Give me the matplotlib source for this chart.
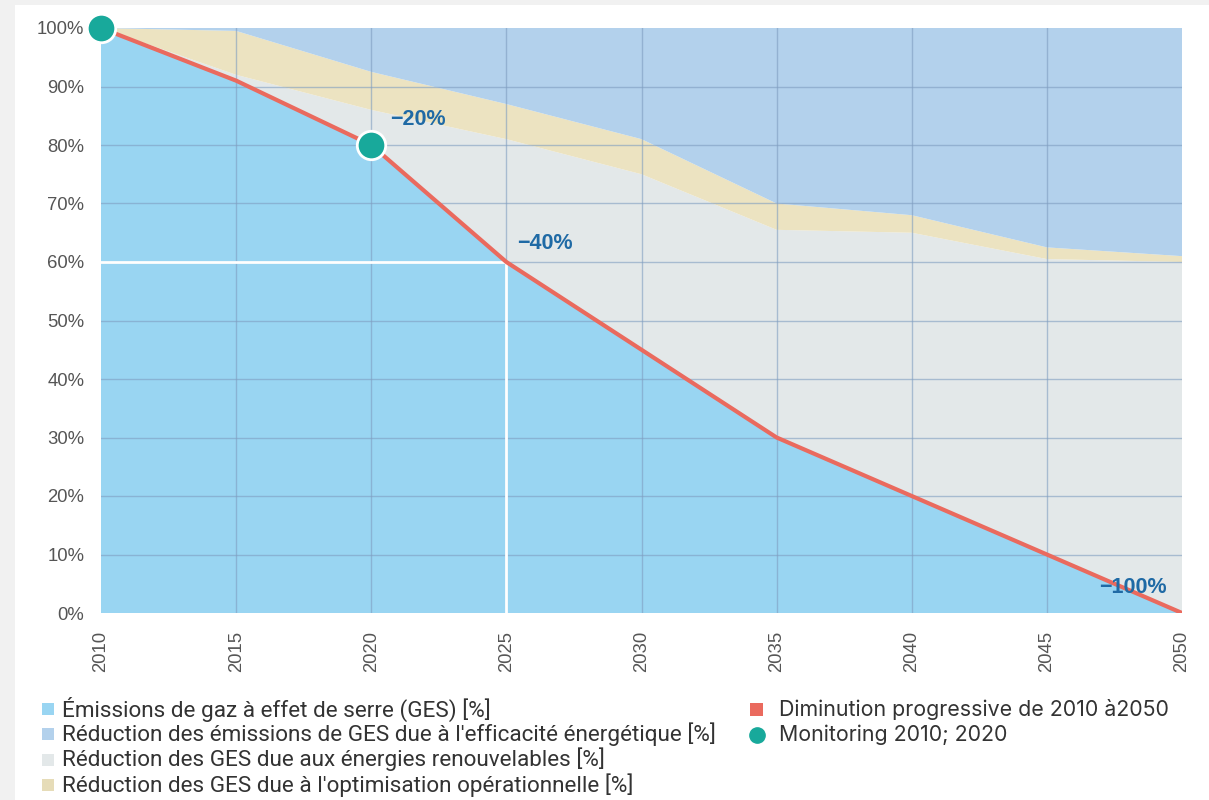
import numpy as np
import matplotlib.pyplot as plt
from matplotlib.patches import Rectangle

# years and stacked shares (% of 2010 emissions)
years = [2010, 2015, 2020, 2025, 2030, 2035, 2040, 2045, 2050]
emissions = [100, 91, 80, 60, 45, 30, 20, 10, 0]
renewables_top = [100, 92, 86, 81, 75, 65.5, 65, 60.5, 60]
operational_top = [100, 99.5, 92.5, 87, 81, 70, 68, 62.5, 61]

monitor_years = [2010, 2020]
monitor_values = [100, 80]

labels = [("−20%", 2020.7, 84.3), ("−40%", 2025.4, 63.1), ("−100%", 2048.2, 4.3)]

legend_left = [
    ("Émissions de gaz à effet de serre (GES) [%]", "#99d5f2"),
    ("Réduction des émissions de GES due à l'efficacité énergétique [%]", "#b3d1ec"),
    ("Réduction des GES due aux énergies renouvelables [%]", "#e3e8e9"),
    ("Réduction des GES due à l'optimisation opérationnelle [%]", "#e6dcb8"),
]

c_emis = "#99d5f2"
c_eff = "#b3d1ec"
c_ren = "#e3e8e9"
c_opt = "#ece3c1"
c_red = "#ea6a5e"
c_teal = "#18a99b"
c_text = "#1f6aa5"

W, H = 1209, 800
fig = plt.figure(figsize=(W / 100, H / 100), dpi=100)
fig.patch.set_facecolor("#f1f1f1")
fig.patches.append(Rectangle((15 / W, 0), 1 - 15 / W, 1 - 5 / H,
                             transform=fig.transFigure, facecolor="white",
                             edgecolor="none", zorder=-10))

ax = fig.add_axes([101 / W, 1 - 613 / H, (1182 - 101) / W, (613 - 28) / H])
ax.set_facecolor("none")

y = np.array(years, dtype=float)
e = np.array(emissions, dtype=float)
r = np.array(renewables_top, dtype=float)
o = np.array(operational_top, dtype=float)

ax.stackplot(y, e, r - e, o - r, 100 - o,
             colors=[c_emis, c_ren, c_opt, c_eff], linewidth=0, zorder=1)

for yr in range(2015, 2050, 5):
    ax.axvline(yr, color="#7f9dc0", lw=1, alpha=0.6, zorder=2)
for pct in range(10, 100, 10):
    ax.axhline(pct, color="#7f9dc0", lw=1, alpha=0.6, zorder=2)

# white guide lines to the 2025 target
ax.plot([2010, 2025], [60, 60], color="white", lw=2, zorder=3)
ax.plot([2025, 2025], [0, 60], color="white", lw=2, zorder=3)

ax.plot(y, e, color=c_red, lw=3, zorder=4, solid_capstyle="butt")
ax.scatter(monitor_years, monitor_values, s=420, color=c_teal,
           edgecolor="white", linewidth=2, zorder=5, clip_on=False)

for txt, xx, yy in labels:
    ax.text(xx, yy, txt, color=c_text, fontsize=15.5, fontweight="bold",
            ha="left" if txt != "−100%" else "center", va="center",
            family="Liberation Sans", zorder=6)

ax.set_xlim(2010, 2050)
ax.set_ylim(0, 100)
ax.set_xticks(range(2010, 2051, 5))
ax.set_yticks(range(0, 101, 10))
ax.set_yticklabels([f"{v}%" for v in range(0, 101, 10)])
ax.tick_params(length=0, labelsize=13.3, labelcolor="#555555")
ax.tick_params(axis="y", pad=12)
ax.tick_params(axis="x", pad=13, labelrotation=90)
for lab in ax.get_xticklabels() + ax.get_yticklabels():
    lab.set_family("Liberation Sans")
for s in ax.spines.values():
    s.set_visible(False)

# legend, left column
for i, (txt, col) in enumerate(legend_left):
    yc = 1 - (709 + 25.3 * i) / H
    fig.patches.append(Rectangle((42 / W, yc - 6 / H), 12 / W, 12 / H,
                                 transform=fig.transFigure, facecolor=col,
                                 edgecolor="none", zorder=2))
    fig.text(62 / W, yc, txt, fontsize=16.2, color="#333333", va="center",
             ha="left", family="Roboto")

# legend, right column
yc = 1 - 709 / H
fig.patches.append(Rectangle((750 / W, yc - 6.5 / H), 13 / W, 13 / H,
                             transform=fig.transFigure, facecolor=c_red,
                             edgecolor="none", zorder=2))
fig.text(779 / W, yc, "Diminution progressive de 2010 à2050", fontsize=15.4,
         color="#333333", va="center", ha="left", family="Inter")
yc = 1 - 735 / H
fig.lines.append(plt.Line2D([757 / W], [yc], marker="o", markersize=11,
                            color=c_teal, linestyle="none",
                            transform=fig.transFigure))
fig.text(779 / W, yc, "Monitoring 2010; 2020", fontsize=15.4,
         color="#333333", va="center", ha="left", family="Inter")

fig.savefig("out.png", dpi=100, facecolor=fig.get_facecolor())
